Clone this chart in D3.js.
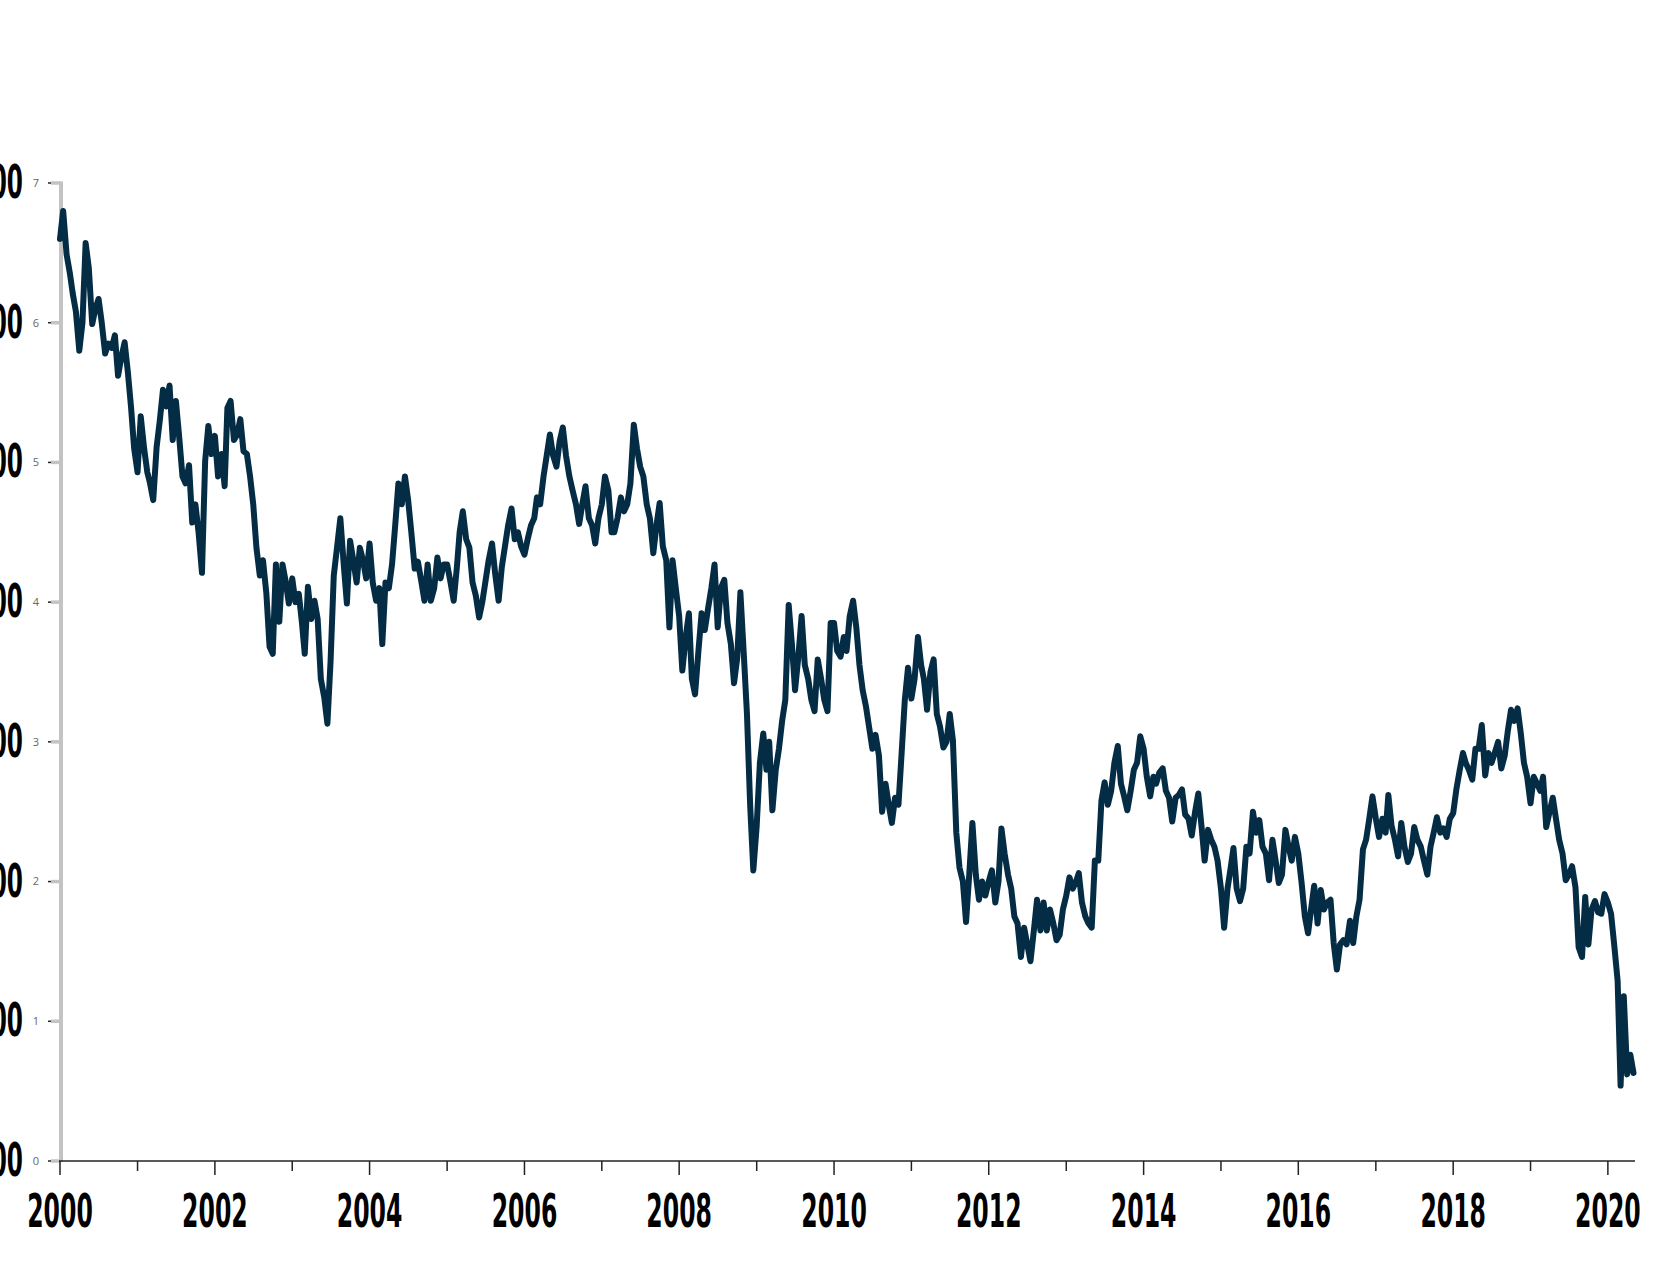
<!DOCTYPE html>
<html>
<head>
<meta charset="utf-8">
<script src="https://cdn.jsdelivr.net/npm/d3@7/dist/d3.min.js"></script>
<style>
  html, body { margin: 0; padding: 0; background: #ffffff; }
  svg { display: block; }
</style>
</head>
<body>
<svg id="chart" width="1668" height="1275"></svg>
<script>
// ---- DATA (semi-monthly readings: 1st and 16th of each month, Jan 2000 – May 2020) ----
const y2000 = [6.60,6.80, 6.49,6.36, 6.21,6.08, 5.80,6.00, 6.57,6.39, 5.99,6.10, 6.17,6.00, 5.78,5.85, 5.82,5.91, 5.62,5.75, 5.86,5.65, 5.40,5.10];
const y2001 = [4.93,5.33, 5.10,4.93, 4.85,4.73, 5.11,5.30, 5.52,5.40, 5.55,5.16, 5.44,5.19, 4.90,4.85, 4.98,4.57, 4.70,4.50, 4.21,5.01, 5.26,5.06];
const y2002 = [5.19,4.90, 5.06,4.83, 5.39,5.44, 5.16,5.20, 5.31,5.08, 5.06,4.90, 4.70,4.39, 4.19,4.30, 4.06,3.68, 3.63,4.27, 3.86,4.27, 4.15,3.99];
const y2003 = [4.17,4.00, 4.06,3.85, 3.63,4.11, 3.88,4.01, 3.88,3.45, 3.32,3.13, 3.58,4.19, 4.40,4.60, 4.27,3.99, 4.44,4.30, 4.14,4.39, 4.30,4.17];
const y2004 = [4.42,4.14, 4.01,4.10, 3.70,4.14, 4.10,4.27, 4.55,4.85, 4.70,4.90, 4.73,4.50, 4.24,4.29, 4.15,4.01, 4.27,4.01, 4.10,4.32, 4.17,4.27];
const y2005 = [4.27,4.15, 4.01,4.25, 4.50,4.65, 4.45,4.39, 4.14,4.05, 3.89,4.00, 4.15,4.30, 4.42,4.20, 4.01,4.25, 4.40,4.55, 4.67,4.45, 4.50,4.40];
const y2006 = [4.34,4.45, 4.55,4.60, 4.75,4.70, 4.90,5.05, 5.20,5.05, 4.97,5.15, 5.25,5.05, 4.90,4.80, 4.70,4.56, 4.70,4.83, 4.60,4.55, 4.42,4.60];
const y2007 = [4.70,4.90, 4.80,4.50, 4.50,4.60, 4.75,4.65, 4.70,4.85, 5.27,5.10, 4.97,4.90, 4.70,4.60, 4.35,4.55, 4.71,4.40, 4.30,3.82, 4.30,4.10];
const y2008 = [3.90,3.51, 3.75,3.92, 3.45,3.34, 3.65,3.92, 3.80,3.95, 4.10,4.27, 3.82,4.10, 4.16,3.85, 3.70,3.42, 3.60,4.07, 3.63,3.20, 2.55,2.08];
const y2009 = [2.40,2.85, 3.06,2.80, 3.00,2.51, 2.80,2.95, 3.15,3.30, 3.98,3.70, 3.37,3.60, 3.90,3.55, 3.45,3.30, 3.22,3.59, 3.45,3.30, 3.22,3.85];
const y2010 = [3.85,3.65, 3.61,3.75, 3.65,3.90, 4.01,3.82, 3.55,3.37, 3.25,3.10, 2.95,3.05, 2.90,2.50, 2.70,2.55, 2.42,2.60, 2.55,2.92, 3.30,3.53];
const y2011 = [3.31,3.45, 3.75,3.55, 3.45,3.23, 3.50,3.59, 3.20,3.11, 2.96,3.00, 3.20,3.01, 2.35,2.10, 2.00,1.71, 2.05,2.42, 2.05,1.87, 2.00,1.90];
const y2012 = [2.00,2.08, 1.85,2.00, 2.38,2.20, 2.05,1.95, 1.75,1.70, 1.46,1.67, 1.55,1.43, 1.65,1.87, 1.65,1.85, 1.65,1.80, 1.70,1.58, 1.62,1.80];
const y2013 = [1.90,2.03, 1.95,2.00, 2.06,1.85, 1.75,1.70, 1.67,2.15, 2.15,2.58, 2.71,2.55, 2.65,2.85, 2.97,2.70, 2.61,2.51, 2.65,2.80, 2.85,3.04];
const y2014 = [2.95,2.75, 2.61,2.75, 2.70,2.78, 2.81,2.65, 2.60,2.43, 2.60,2.62, 2.66,2.48, 2.45,2.33, 2.50,2.63, 2.40,2.15, 2.37,2.30, 2.25,2.15];
const y2015 = [1.95,1.67, 1.95,2.10, 2.24,1.95, 1.86,1.95, 2.25,2.20, 2.50,2.35, 2.44,2.25, 2.20,2.01, 2.30,2.15, 1.99,2.05, 2.37,2.25, 2.15,2.32];
const y2016 = [2.20,2.00, 1.75,1.63, 1.80,1.97, 1.70,1.94, 1.80,1.85, 1.87,1.56, 1.37,1.55, 1.58,1.55, 1.72,1.56, 1.75,1.87, 2.23,2.30, 2.45,2.61];
const y2017 = [2.45,2.32, 2.45,2.35, 2.62,2.40, 2.30,2.18, 2.42,2.25, 2.14,2.20, 2.39,2.30, 2.25,2.15, 2.05,2.25, 2.35,2.46, 2.35,2.38, 2.32,2.45];
const y2018 = [2.49,2.66, 2.80,2.92, 2.85,2.80, 2.73,2.95, 2.95,3.12, 2.76,2.92, 2.85,2.92, 3.00,2.81, 2.90,3.08, 3.23,3.15, 3.24,3.06, 2.85,2.75];
const y2019 = [2.56,2.75, 2.70,2.65, 2.75,2.39, 2.50,2.60, 2.45,2.30, 2.20,2.01, 2.05,2.11, 1.96,1.53, 1.46,1.89, 1.55,1.80, 1.86,1.78, 1.77,1.91];
const y2020 = [1.85,1.77, 1.53,1.29, 0.54,1.18, 0.62,0.76, 0.63];

const seriesValues = [].concat(y2000,y2001,y2002,y2003,y2004,y2005,y2006,y2007,y2008,y2009,
                               y2010,y2011,y2012,y2013,y2014,y2015,y2016,y2017,y2018,y2019,y2020);
// reading dates: 1st and 16th of each month starting January 2000
const seriesDates = seriesValues.map((v, i) => new Date(2000, Math.floor(i / 2), i % 2 ? 16 : 1));

const xTickYears   = [2000,2001,2002,2003,2004,2005,2006,2007,2008,2009,2010,2011,2012,2013,2014,2015,2016,2017,2018,2019,2020];
const xLabelYears  = [2000,2002,2004,2006,2008,2010,2012,2014,2016,2018,2020];
const yTickValues  = [0,1,2,3,4,5,6,7];
const ySmallLabels = ["0","1","2","3","4","5","6","7"];
const yBigLabels   = ["0.00","1.00","2.00","3.00","4.00","5.00","6.00","7.00"];

// ---- CHART ----
const svg = d3.select("#chart");
const x = d3.scaleTime()
  .domain([new Date(2000, 0, 1), new Date(2020, 4, 8)])
  .range([60, 1635]);
const y = d3.scaleLinear().domain([0, 7]).range([1161, 183]);

const bigFont = "'Liberation Sans Narrow', 'DejaVu Sans Condensed', 'Roboto', sans-serif";

// Y axis (grey rule + ticks)
const yAxis = svg.append("g").attr("class", "y-axis");
yAxis.append("line")
  .attr("x1", 61).attr("x2", 61)
  .attr("y1", y(7) - 1.5).attr("y2", y(0) + 1)
  .attr("stroke", "#c3c3c3").attr("stroke-width", 4);
yAxis.selectAll("line.gtick").data(yTickValues).join("line")
  .attr("class", "gtick")
  .attr("x1", 51).attr("x2", 61)
  .attr("y1", d => y(d)).attr("y2", d => y(d))
  .attr("stroke", "#c3c3c3").attr("stroke-width", 3.5);
yAxis.selectAll("line.btick").data(yTickValues).join("line")
  .attr("class", "btick")
  .attr("x1", 48).attr("x2", 51)
  .attr("y1", d => y(d)).attr("y2", d => y(d))
  .attr("stroke", "#222").attr("stroke-width", 1.5);
yAxis.selectAll("text.small").data(yTickValues).join("text")
  .attr("class", "small")
  .attr("x", 39).attr("y", d => y(d))
  .attr("dy", "0.35em")
  .attr("text-anchor", "end")
  .attr("font-family", "'Open Sans', 'DejaVu Sans', sans-serif")
  .attr("font-size", 11)
  .attr("fill", "#666")
  .text((d, i) => ySmallLabels[i]);
yAxis.selectAll("text.big").data(yTickValues).join("text")
  .attr("class", "big")
  .attr("transform", d => `translate(23,${y(d) + 15}) scale(0.56,1)`)
  .attr("text-anchor", "end")
  .attr("font-family", bigFont)
  .attr("font-weight", "bold")
  .attr("font-size", 46)
  .attr("fill", "#000")
  .text((d, i) => yBigLabels[i]);

// X axis
const xAxis = svg.append("g").attr("class", "x-axis");
xAxis.append("line")
  .attr("x1", 59).attr("x2", 1635)
  .attr("y1", 1161).attr("y2", 1161)
  .attr("stroke", "#222").attr("stroke-width", 1.5);
xAxis.selectAll("line.tick").data(xTickYears).join("line")
  .attr("class", "tick")
  .attr("x1", d => x(new Date(d, 0, 1))).attr("x2", d => x(new Date(d, 0, 1)))
  .attr("y1", 1161).attr("y2", d => d % 2 === 0 ? 1175 : 1171)
  .attr("stroke", "#222").attr("stroke-width", 1.5);
xAxis.selectAll("text").data(xLabelYears).join("text")
  .attr("transform", d => `translate(${x(new Date(d, 0, 1))},1227) scale(0.57,1)`)
  .attr("text-anchor", "middle")
  .attr("font-family", bigFont)
  .attr("font-weight", "bold")
  .attr("font-size", 46)
  .attr("fill", "#000")
  .text(d => String(d));

// Line
const line = d3.line()
  .x((d, i) => x(seriesDates[i]))
  .y(d => y(d))
  .curve(d3.curveLinear);
svg.append("path")
  .datum(seriesValues)
  .attr("fill", "none")
  .attr("stroke", "#042d45")
  .attr("stroke-width", 6)
  .attr("stroke-linejoin", "round")
  .attr("stroke-linecap", "round")
  .attr("d", line);
</script>
</body>
</html>
